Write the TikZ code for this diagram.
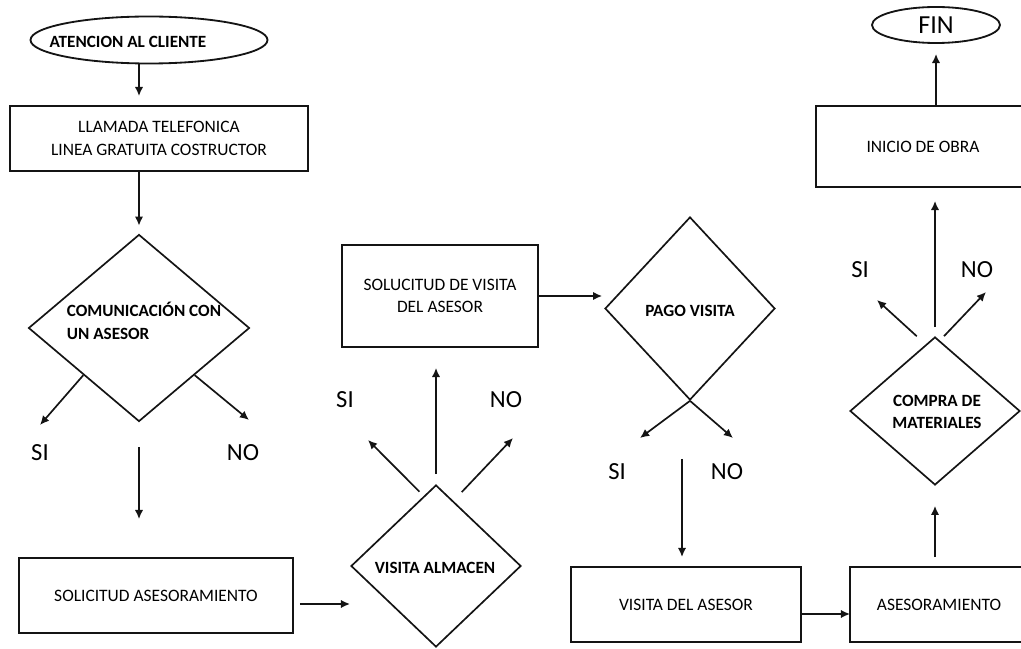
\documentclass[tikz,border=0pt]{standalone}
\usepackage{fontspec}
\setmainfont{Carlito}
\usepackage{xcolor}
\definecolor{cInk}{HTML}{141414}
\usepackage{tikz}
\usetikzlibrary{arrows.meta,shapes.geometric}
% one unit = one pixel of the page
\newcommand{\px}{0.025cm}
\tikzset{
  node-box/.style={draw=cInk,line width=1.3pt,rectangle,align=center,inner sep=0pt,
    font=\fontsize{12.4}{16}\selectfont},
  node-decision/.style={draw=cInk,line width=1.2pt,diamond,inner sep=0pt},
  node-term/.style={draw=cInk,line width=1.3pt,ellipse,inner sep=0pt},
  txt-bold/.style={font=\bfseries\fontsize{12.2}{16}\selectfont,align=center,inner sep=0pt},
  txt-answer/.style={font=\fontsize{17.5}{20}\selectfont,inner sep=0pt},
  arrow/.style={-{Latex[length=6.5pt,width=6pt]},line width=1.2pt,draw=cInk},
}

\begin{document}
\begin{tikzpicture}[x=\px,y=-\px]
  \useasboundingbox (0,0) rectangle (1021,649);

  % inicio y fin
  \node[node-term,minimum width=237*\px,minimum height=47*\px] (atencion) at (149,40) {};
  \node[txt-bold] (atencion-txt) at (128,42) {ATENCION AL CLIENTE};
  \node[node-term,minimum width=128*\px,minimum height=36*\px,
    font=\fontsize{18.5}{20}\selectfont] (fin) at (936,25) {FIN};

  % cajas de proceso
  \node[node-box,minimum width=298*\px,minimum height=65*\px] (llamada) at (159,138.5)
    {LLAMADA TELEFONICA\\LINEA GRATUITA COSTRUCTOR};
  \node[node-box,minimum width=274*\px,minimum height=75*\px] (solicitud) at (156,595.5)
    {SOLICITUD ASESORAMIENTO};
  \node[node-box,minimum width=196*\px,minimum height=102*\px] (visita-sol) at (440,296)
    {SOLUCITUD DE VISITA\\DEL ASESOR};
  \node[node-box,minimum width=230*\px,minimum height=75*\px] (visita) at (686,604.5)
    {VISITA DEL ASESOR};
  \node[node-box,minimum width=178*\px,minimum height=75*\px] (asesor) at (939,604.5)
    {ASESORAMIENTO};
  \node[node-box,minimum width=214*\px,minimum height=81*\px] (obra) at (923,146.5)
    {INICIO DE OBRA};

  % decisiones
  \node[node-decision,minimum width=221*\px,minimum height=187*\px] (comunic) at (139,328) {};
  \node[node-decision,minimum width=170*\px,minimum height=162*\px] (almacen) at (436,566) {};
  \node[node-decision,minimum width=170*\px,minimum height=183*\px] (pago) at (690,308.5) {};
  \node[node-decision,minimum width=170*\px,minimum height=148*\px] (compra) at (935,411) {};

  \node[txt-bold,align=left] (comunic-txt) at (144,321) {COMUNICACIÓN CON\\UN ASESOR};
  \node[txt-bold] (almacen-txt) at (435,568) {VISITA ALMACEN};
  \node[txt-bold] (pago-txt) at (690,311) {PAGO VISITA};
  \node[txt-bold] (compra-txt) at (937,412) {COMPRA DE\\MATERIALES};

  % respuestas
  \node[txt-answer] (si-comunic) at (40,453) {SI};
  \node[txt-answer] (no-comunic) at (243,453) {NO};
  \node[txt-answer] (si-almacen) at (345,400) {SI};
  \node[txt-answer] (no-almacen) at (506,400) {NO};
  \node[txt-answer] (si-pago) at (617,472) {SI};
  \node[txt-answer] (no-pago) at (727,472) {NO};
  \node[txt-answer] (si-compra) at (860,270) {SI};
  \node[txt-answer] (no-compra) at (977,270) {NO};

  % puntas sueltas
  \coordinate (si-comunic-end) at (40,425);
  \coordinate (no-comunic-end) at (249,420);
  \coordinate (si-almacen-end) at (368,440);
  \coordinate (no-almacen-end) at (513,438);
  \coordinate (si-pago-end) at (640,438);
  \coordinate (no-pago-end) at (733,438);
  \coordinate (si-compra-end) at (877,300);
  \coordinate (no-compra-end) at (986,292);
  \coordinate (almacen-in) at (350,604);
  \coordinate (visita-in) at (682,557);
  \coordinate (asesor-in) at (850,614);

  \draw[arrow,shorten >=9*\px] (atencion.south -| comunic.north) -- (llamada.north -| comunic.north);
  \draw[arrow,shorten >=8*\px] (llamada.south -| comunic.north) -- (comunic.north);
  \draw[arrow] (comunic.south west) -- (si-comunic-end);
  \draw[arrow] (comunic.south east) -- (no-comunic-end);
  \draw[arrow,shorten <=25*\px,shorten >=38*\px] (comunic.south) -- (comunic.south |- solicitud.north);
  \draw[arrow,shorten <=6*\px] (solicitud.east |- almacen-in) -- (almacen-in);

  \draw[arrow,shorten <=10*\px,shorten >=20*\px] (almacen.north) -- (almacen.north |- visita-sol.south);
  \draw[arrow,shorten <=6*\px] (almacen.100) -- (si-almacen-end);
  \draw[arrow,shorten <=12*\px] (almacen.75) -- (no-almacen-end);
  \draw[arrow,shorten >=2*\px] (visita-sol.east) -- (visita-sol.east -| pago.west);

  \draw[arrow] (pago.south) -- (si-pago-end);
  \draw[arrow] (pago.south) -- (no-pago-end);
  \draw[arrow,shorten <=58*\px] (pago.south -| visita-in) -- (visita-in);
  \draw[arrow] (visita.east |- asesor-in) -- (asesor-in);

  \draw[arrow,shorten <=9*\px,shorten >=20*\px] (asesor.north -| compra.south) -- (compra.south);
  \draw[arrow,shorten <=12*\px] (compra.98) -- (si-compra-end);
  \draw[arrow,shorten <=6*\px] (compra.86) -- (no-compra-end);
  \draw[arrow,shorten <=9*\px,shorten >=13*\px] (compra.north) -- (compra.north |- obra.south);
  \draw[arrow,shorten >=10*\px] (obra.north -| fin.south) -- (fin.south);
\end{tikzpicture}
\end{document}
